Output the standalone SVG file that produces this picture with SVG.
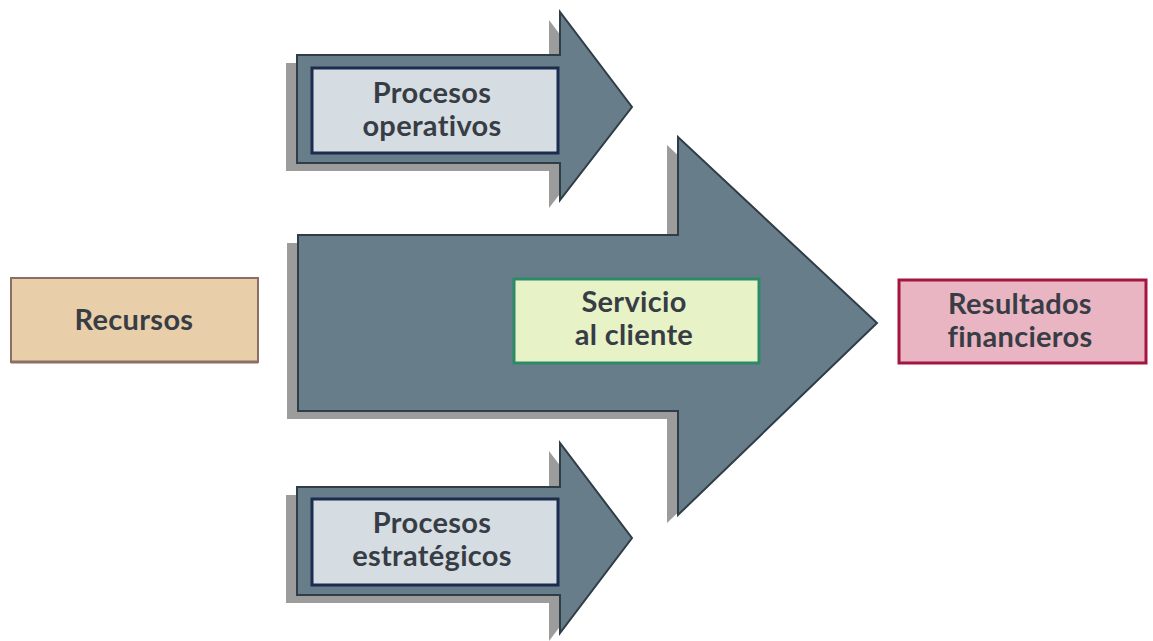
<svg xmlns="http://www.w3.org/2000/svg" width="1153" height="641" viewBox="0 0 1153 641">
<defs>
<style>
.shadow{fill:#9c9c9c;}
.arrow{fill:#687d8a;stroke:#2f3d47;stroke-width:2;stroke-linejoin:miter;}
.inner{fill:#d5dde3;stroke:#1b2d4f;stroke-width:3;}
.t{font-family:Lato,"Open Sans","Liberation Sans",sans-serif;font-weight:bold;font-size:29px;letter-spacing:0.3px;fill:#383d45;text-anchor:middle;}
</style>
</defs>
<rect width="1153" height="641" fill="#ffffff"/>
<g id="connectors">
<g id="arrow-operativos">
<polygon class="shadow" points="286,63 549,63 549,20 621,115 549,208 549,171 286,171"/>
<polygon class="arrow" points="297,55 560,55 560,12 632,107 560,200 560,163 297,163"/>
</g>
<g id="arrow-estrategicos">
<polygon class="shadow" points="286,495 549,495 549,451 621,546 549,641 549,603 286,603"/>
<polygon class="arrow" points="297,487 560,487 560,443 632,538 560,633 560,595 297,595"/>
</g>
<g id="arrow-servicio">
<polygon class="shadow" points="287,243 667,243 667,145 866,331 667,523 667,419 287,419"/>
<polygon class="arrow" points="298,235 678,235 678,137 877,323 678,515 678,411 298,411"/>
</g>
</g>
<g id="node-operativos">
<rect class="inner" x="312" y="68" width="246" height="85"/>
<text class="t" x="432" y="103">Procesos</text>
<text class="t" x="432" y="136">operativos</text>
</g>
<g id="node-estrategicos">
<rect class="inner" x="312" y="499" width="246" height="86"/>
<text class="t" x="432" y="533">Procesos</text>
<text class="t" x="432" y="566">estratégicos</text>
</g>
<g id="node-recursos">
<rect x="11" y="278" width="247" height="84" fill="#e9cfa9" stroke="#8c6f64" stroke-width="2"/>
<line x1="11" y1="362" x2="258" y2="362" stroke="#8c6f64" stroke-width="3"/>
<text class="t" x="134" y="330">Recursos</text>
</g>
<g id="node-servicio">
<rect x="514" y="279" width="245" height="84" fill="#e7f2c6" stroke="#2c8a68" stroke-width="3"/>
<text class="t" x="634" y="312">Servicio</text>
<text class="t" x="634" y="345">al cliente</text>
</g>
<g id="node-resultados">
<rect x="899" y="280" width="247" height="83" fill="#e9b5c2" stroke="#a3163f" stroke-width="3"/>
<text class="t" x="1020" y="314">Resultados</text>
<text class="t" x="1020" y="347">financieros</text>
</g>
</svg>
